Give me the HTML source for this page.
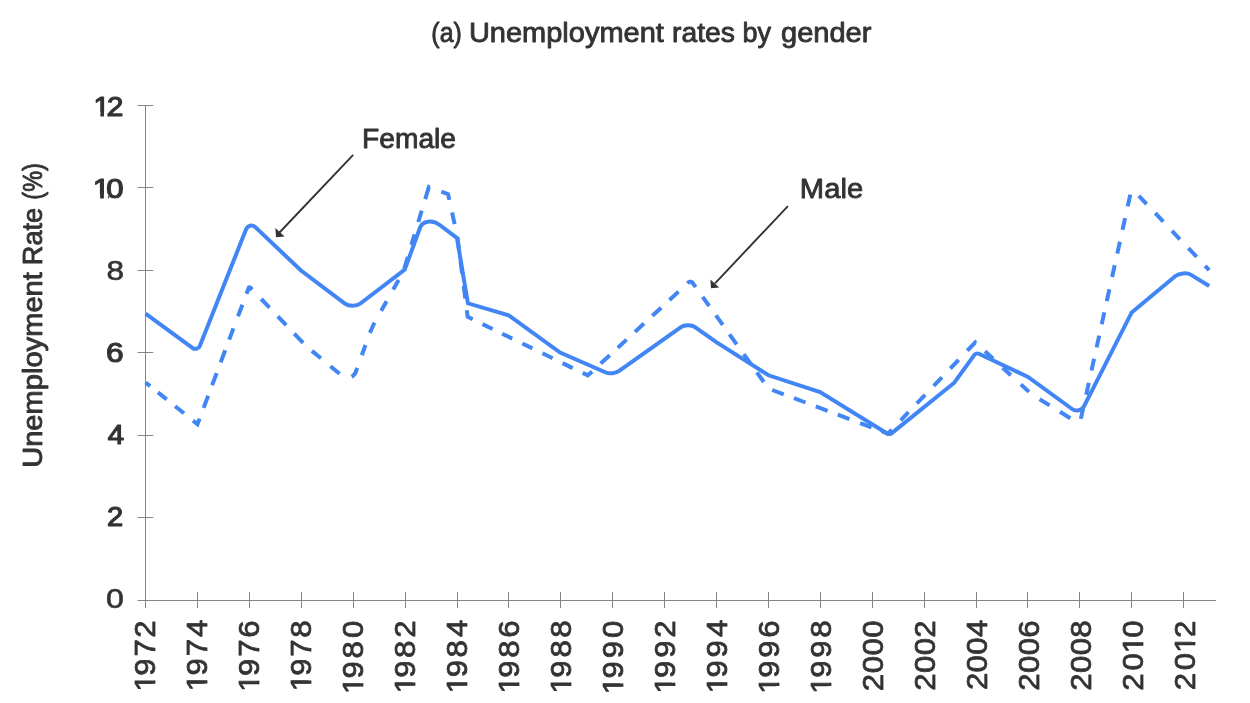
<!DOCTYPE html>
<html lang="en"><head><meta charset="utf-8"><title>Unemployment rates by gender</title>
<style>html,body{margin:0;padding:0;background:#fff}svg{display:block}</style></head>
<body>
<svg width="1250" height="703" viewBox="0 0 1250 703" role="img" aria-label="Unemployment rates by gender">
<rect width="1250" height="703" fill="#ffffff"/>
<g stroke="#858585" stroke-width="1" fill="none">
<path d="M145.5 105V608"/>
<path d="M137.5 600.5H1216"/>
<path d="M137.5 517.5H153.3"/>
<path d="M137.5 435.5H153.3"/>
<path d="M137.5 352.5H153.3"/>
<path d="M137.5 270.5H153.3"/>
<path d="M137.5 187.5H153.3"/>
<path d="M137.5 105.5H153.3"/>
<path d="M197.5 592V608"/>
<path d="M249.5 592V608"/>
<path d="M301.5 592V608"/>
<path d="M353.5 592V608"/>
<path d="M405.5 592V608"/>
<path d="M457.5 592V608"/>
<path d="M508.5 592V608"/>
<path d="M560.5 592V608"/>
<path d="M612.5 592V608"/>
<path d="M664.5 592V608"/>
<path d="M716.5 592V608"/>
<path d="M768.5 592V608"/>
<path d="M820.5 592V608"/>
<path d="M872.5 592V608"/>
<path d="M924.5 592V608"/>
<path d="M976.5 592V608"/>
<path d="M1027.5 592V608"/>
<path d="M1079.5 592V608"/>
<path d="M1131.5 592V608"/>
<path d="M1183.5 592V608"/>
</g>
<defs>
<clipPath id="f429"><path clip-rule="evenodd" d="M-99 -50H200V50H-99Z M43.63 -3.34H49.84V3.00H43.63Z M52.87 -3.34H58.76V3.00H52.87Z"/></clipPath>
<clipPath id="f433"><path clip-rule="evenodd" d="M-99 -50H200V50H-99Z M44.03 -3.34H50.24V3.00H44.03Z M53.27 -3.34H59.16V3.00H53.27Z"/></clipPath>
<clipPath id="f52"><path clip-rule="evenodd" d="M-99 -50H200V50H-99Z M5.93 -3.34H12.14V3.00H5.93Z M15.17 -3.34H21.06V3.00H15.17Z"/></clipPath>
<clipPath id="f55"><path clip-rule="evenodd" d="M-99 -50H200V50H-99Z M6.23 -3.34H12.44V3.00H6.23Z M15.47 -3.34H21.36V3.00H15.47Z"/></clipPath>
<clipPath id="f58"><path clip-rule="evenodd" d="M-99 -50H200V50H-99Z M6.53 -3.34H12.74V3.00H6.53Z M15.77 -3.34H21.66V3.00H15.77Z"/></clipPath>
<clipPath id="f59"><path clip-rule="evenodd" d="M-99 -50H200V50H-99Z M6.63 -3.34H12.84V3.00H6.63Z M15.87 -3.34H21.76V3.00H15.87Z"/></clipPath>
<clipPath id="f60"><path clip-rule="evenodd" d="M-99 -50H200V50H-99Z M6.73 -3.34H12.94V3.00H6.73Z M15.97 -3.34H21.86V3.00H15.97Z"/></clipPath>
<clipPath id="f61"><path clip-rule="evenodd" d="M-99 -50H200V50H-99Z M6.83 -3.34H13.04V3.00H6.83Z M16.07 -3.34H21.96V3.00H16.07Z"/></clipPath>
<clipPath id="f62"><path clip-rule="evenodd" d="M-99 -50H200V50H-99Z M6.93 -3.34H13.14V3.00H6.93Z M16.17 -3.34H22.06V3.00H16.17Z"/></clipPath>
<clipPath id="f76"><path clip-rule="evenodd" d="M-99 -50H200V50H-99Z M8.33 -3.34H14.54V3.00H8.33Z M17.57 -3.34H23.46V3.00H17.57Z"/></clipPath>
<clipPath id="f79"><path clip-rule="evenodd" d="M-99 -50H200V50H-99Z M8.63 -3.34H14.84V3.00H8.63Z M17.87 -3.34H23.76V3.00H17.87Z"/></clipPath>
<clipPath id="f80"><path clip-rule="evenodd" d="M-99 -50H200V50H-99Z M8.73 -3.34H14.94V3.00H8.73Z M17.97 -3.34H23.86V3.00H17.97Z"/></clipPath>
<clipPath id="f81"><path clip-rule="evenodd" d="M-99 -50H200V50H-99Z M8.83 -3.34H15.04V3.00H8.83Z M18.07 -3.34H23.96V3.00H18.07Z"/></clipPath>
<clipPath id="y10"><path clip-rule="evenodd" d="M-99 -50H200V50H-99Z M0.61 -3.40H6.63V3.00H0.61Z M9.86 -3.40H13.83V3.00H9.86Z"/></clipPath>
<clipPath id="y12"><path clip-rule="evenodd" d="M-99 -50H200V50H-99Z M0.52 -3.40H6.54V3.00H0.52Z M9.77 -3.40H13.15V3.00H9.77Z"/></clipPath>
</defs>
<g font-family="'Liberation Sans', Arial, Helvetica, sans-serif" fill="#333333" stroke="#333333" stroke-linejoin="round">
<text transform="translate(431.32 42.45) scale(0.9072 1.0000)" font-size="27.50" stroke-width="0.85">(a)</text>
<text transform="translate(468.94 42.45) scale(1.0539 1.0000)" font-size="27.50" stroke-width="0.85">Unemployment</text>
<text transform="translate(672.07 42.45) scale(1.0285 1.0000)" font-size="27.50" stroke-width="0.85">rates</text>
<text transform="translate(742.43 42.45) scale(0.9831 1.0000)" font-size="27.50" stroke-width="0.85">by</text>
<text transform="translate(781.04 42.45) scale(1.0563 1.0000)" font-size="27.50" stroke-width="0.85">gender</text>
<text transform="translate(41.60 199.64) rotate(-90) scale(0.8532 1.0000)" font-size="27.50" stroke-width="0.85">(%)</text>
<text transform="translate(41.60 265.20) rotate(-90) scale(0.9879 1.0000)" font-size="27.50" stroke-width="0.85">Rate</text>
<text transform="translate(41.60 467.87) rotate(-90) scale(1.0588 1.0000)" font-size="27.50" stroke-width="0.85">Unemployment</text>
<text transform="translate(362.03 147.50) scale(1.0259 1.0000)" font-size="27.50" stroke-width="0.85">Female</text>
<text transform="translate(799.87 198.30) scale(1.0613 1.0000)" font-size="27.50" stroke-width="0.85">Male</text>
<text transform="translate(93.52 115.57) scale(1.0680 0.9882)" font-size="27.5" stroke-width="1.20" x="0.03 12.56" clip-path="url(#y12)">12</text>
<text transform="translate(92.68 197.53) scale(1.1328 0.9966)" font-size="27.5" stroke-width="1.20" x="0.11 12.05" clip-path="url(#y10)">10</text>
<text transform="translate(106.47 279.92) scale(1.1478 1.0214)" font-size="27.5" stroke-width="0.60" x="0.00">8</text>
<text transform="translate(106.08 361.77) scale(1.1520 1.0063)" font-size="27.5" stroke-width="1.20" x="-0.00">6</text>
<text transform="translate(107.81 443.79) scale(1.0732 1.0189)" font-size="27.5" stroke-width="1.20" x="0.00">4</text>
<text transform="translate(107.01 525.61) scale(1.0584 0.9901)" font-size="27.5" stroke-width="1.20" x="-0.00">2</text>
<text transform="translate(105.99 608.02) scale(1.1713 1.0239)" font-size="27.5" stroke-width="0.60" x="-0.00">0</text>
<text transform="translate(155.32 700.0) rotate(-90) scale(1.090 1)" font-size="28.6" stroke-width="0.75" x="7.9 22.2 39.9 57.1" clip-path="url(#f79)">1972</text>
<text transform="translate(207.32 700.0) rotate(-90) scale(1.090 1)" font-size="28.6" stroke-width="0.75" x="8.1 22.5 40.1 57.7" clip-path="url(#f81)">1974</text>
<text transform="translate(259.32 700.0) rotate(-90) scale(1.090 1)" font-size="28.6" stroke-width="0.75" x="7.6 22.0 39.6 57.2" clip-path="url(#f76)">1976</text>
<text transform="translate(311.32 700.0) rotate(-90) scale(1.090 1)" font-size="28.6" stroke-width="0.75" x="8.0 22.2 39.7 57.1" clip-path="url(#f80)">1978</text>
<text transform="translate(363.32 700.0) rotate(-90) scale(1.090 1)" font-size="28.6" stroke-width="0.75" x="5.5 19.8 38.1 57.0" clip-path="url(#f55)">1980</text>
<text transform="translate(415.32 700.0) rotate(-90) scale(1.090 1)" font-size="28.6" stroke-width="0.75" x="6.1 20.5 38.6 57.1" clip-path="url(#f61)">1982</text>
<text transform="translate(467.32 700.0) rotate(-90) scale(1.090 1)" font-size="28.6" stroke-width="0.75" x="6.2 20.9 39.1 57.7" clip-path="url(#f62)">1984</text>
<text transform="translate(519.33 700.0) rotate(-90) scale(1.090 1)" font-size="28.6" stroke-width="0.75" x="6.0 20.5 38.7 57.2" clip-path="url(#f60)">1986</text>
<text transform="translate(571.33 700.0) rotate(-90) scale(1.090 1)" font-size="28.6" stroke-width="0.75" x="6.0 20.5 38.9 57.1" clip-path="url(#f60)">1988</text>
<text transform="translate(623.33 700.0) rotate(-90) scale(1.090 1)" font-size="28.6" stroke-width="0.75" x="5.2 19.8 38.2 57.0" clip-path="url(#f52)">1990</text>
<text transform="translate(675.33 700.0) rotate(-90) scale(1.090 1)" font-size="28.6" stroke-width="0.75" x="5.9 20.3 38.8 57.1" clip-path="url(#f59)">1992</text>
<text transform="translate(727.33 700.0) rotate(-90) scale(1.090 1)" font-size="28.6" stroke-width="0.75" x="6.2 20.6 39.1 57.7" clip-path="url(#f62)">1994</text>
<text transform="translate(779.33 700.0) rotate(-90) scale(1.090 1)" font-size="28.6" stroke-width="0.75" x="5.8 20.4 38.8 57.2" clip-path="url(#f58)">1996</text>
<text transform="translate(831.33 700.0) rotate(-90) scale(1.090 1)" font-size="28.6" stroke-width="0.75" x="5.8 20.4 38.8 57.1" clip-path="url(#f58)">1998</text>
<text transform="translate(883.33 700.0) rotate(-90) scale(1.090 1)" font-size="28.6" stroke-width="0.75" x="8.1 24.5 40.9 57.1">2000</text>
<text transform="translate(935.33 700.0) rotate(-90) scale(1.090 1)" font-size="28.6" stroke-width="0.75" x="8.6 24.8 41.1 57.1">2002</text>
<text transform="translate(987.33 700.0) rotate(-90) scale(1.090 1)" font-size="28.6" stroke-width="0.75" x="9.2 25.3 41.6 57.7">2004</text>
<text transform="translate(1039.33 700.0) rotate(-90) scale(1.090 1)" font-size="28.6" stroke-width="0.75" x="8.4 24.8 41.1 57.2">2006</text>
<text transform="translate(1091.33 700.0) rotate(-90) scale(1.090 1)" font-size="28.6" stroke-width="0.75" x="8.4 24.8 41.1 57.1">2008</text>
<text transform="translate(1143.33 700.0) rotate(-90) scale(1.090 1)" font-size="28.6" stroke-width="0.75" x="8.4 27.0 42.9 57.1" clip-path="url(#f429)">2010</text>
<text transform="translate(1195.33 700.0) rotate(-90) scale(1.090 1)" font-size="28.6" stroke-width="0.75" x="9.0 27.2 43.3 57.0" clip-path="url(#f433)">2012</text>
</g>
<g stroke="#333333" stroke-width="1.9" fill="#333333">
<path d="M353.2 154.8L279.5 232.5" fill="none"/>
<path d="M276 237.2L275.4 228L284.6 236.5Z" stroke="none"/>
<path d="M787.9 206.1L715 283.4" fill="none"/>
<path d="M711 288.2L710.4 279.5L719.2 287.5Z" stroke="none"/>
</g>
<g stroke="#4285f4" stroke-width="4" fill="none" stroke-linejoin="miter">
<path d="M145.6 382.5L150.1 386.1 M157.9 392.4L166.7 399.4 M175.1 406.2L184.0 413.3 M193.0 420.6L197.5 424.2L199.6 418.6 M203.6 407.9L208.2 395.8 M212.1 385.2L216.7 373.1 M220.7 362.4L225.2 350.3 M229.2 339.6L233.4 328.4 M238.0 316.2L242.4 304.7 M246.5 293.7L248.7 287.8L249.0 287.3L249.6 287.2L250.1 287.4L250.2 287.5L252.2 289.6 M261.2 299.0L269.5 307.7 M277.8 316.4L286.2 325.2 M294.2 333.6L303.1 342.9 M311.9 350.9L320.9 358.3 M330.4 366.2L339.6 373.7 M351.6 376.7L351.8 376.6L352.7 376.0L353.5 375.4L354.2 374.6L354.8 373.8L355.4 372.8L355.9 371.7L357.2 367.9 M361.8 355.2L365.5 345.0 M369.9 332.9L370.7 331.0L371.6 329.0L372.5 327.0L373.4 325.0L374.5 322.7 M381.2 310.8L386.6 301.2 M393.2 289.6L398.6 280.0 M404.2 268.9L407.8 257.0 M411.4 244.9L414.6 234.3 M418.3 222.0L421.7 210.7 M425.2 199.1L428.9 187.0L429.6 187.3 M441.4 191.7L448.1 194.2L449.3 199.9 M452.1 212.5L454.6 224.1 M457.4 237.2L457.6 238.0L459.0 248.9 M460.5 260.9L462.1 273.4 M463.7 285.9L465.3 298.5 M466.8 310.2L467.6 316.8L472.7 319.3 M482.5 324.1L492.6 329.0 M502.2 333.7L512.3 338.6 M522.4 343.5L532.4 348.4 M542.5 353.3L552.6 358.2 M562.6 363.1L572.7 368.1 M582.7 372.9L587.8 375.4L592.1 371.5 M600.7 363.5L609.7 355.2 M617.8 347.7L626.6 339.6 M635.0 331.9L644.0 323.5 M652.3 315.8L661.2 307.7 M669.5 300.0L678.5 291.6 M687.4 283.4L688.6 282.3L689.0 282.0L689.6 281.8L690.1 281.7L690.7 281.7L691.2 281.8L691.7 282.0L692.2 282.3L692.5 282.7L695.7 287.1 M702.6 296.8L709.2 306.0 M715.9 315.3L722.8 324.9 M729.5 334.3L736.7 344.3 M743.8 354.1L750.6 363.7 M756.9 372.4L763.8 382.0 M772.2 390.0L783.7 394.3 M794.0 398.2L805.5 402.5 M815.8 406.4L827.6 410.8 M837.8 414.7L849.4 419.1 M860.1 423.1L871.5 427.4 M881.7 431.2L888.0 433.6L891.8 429.7 M900.7 420.3L908.5 412.2 M916.9 403.4L925.1 394.8 M933.7 385.8L941.9 377.3 M950.3 368.5L958.6 359.8 M967.3 350.7L975.3 342.3L975.9 342.9 M985.0 351.3L993.1 358.7 M1002.7 367.7L1010.9 375.2 M1020.9 384.4L1029.0 391.9 M1039.6 399.2L1049.6 405.4 M1060.0 411.8L1070.3 418.2 M1138.8 195.8L1146.6 204.1 M1155.3 213.2L1163.3 221.7 M1172.0 230.9L1179.9 239.3 M1188.4 248.2L1196.7 256.9 M1205.1 265.9L1209.2 270.2 M1080.8 418.9L1083.4 407.1 M1086.2 394.7L1088.8 382.9 M1091.5 370.5L1094.1 358.7 M1096.6 347.4L1099.2 335.6 M1101.7 324.2L1104.3 312.4 M1106.8 301.1L1109.4 289.3 M1112.1 277.0L1114.7 265.2 M1117.3 253.6L1119.9 241.8 M1122.5 229.9L1125.1 218.1 M1127.7 206.4L1130.3 194.6"/>
<path d="M145.6 313.7 L192.7 348.0 C195.2 349.7 198.7 348.7 199.8 345.9 L246.0 229.5 C247.6 225.4 252.4 224.3 255.6 227.4 L301.0 270.5 L344.9 303.6 C348.8 306.5 356.6 306.5 360.4 303.5 L404.8 269.5 L420.1 227.5 C422.5 220.8 432.4 219.5 439.7 225.0 L456.9 237.8 L467.9 303.3 L508.7 315.3 L560.1 352.5 L605.8 372.5 C609.3 374.0 615.8 373.3 618.8 371.2 L680.6 327.3 C684.3 324.6 691.7 324.6 695.4 327.3 L716.3 342.2 L768.5 375.3 L820.1 392.0 L887.5 433.7 C888.5 434.3 890.6 434.2 891.5 433.4 L954.3 382.7 L974.4 354.9 C975.3 353.7 977.6 353.1 978.9 353.8 L1028.0 377.0 L1072.1 409.0 C1076.0 411.8 1082.0 410.4 1084.1 406.1 L1131.7 312.4 L1175.5 276.0 C1179.2 273.0 1187.0 272.4 1191.1 274.9 L1209.2 286.0"/>
</g>
</svg>
</body></html>
